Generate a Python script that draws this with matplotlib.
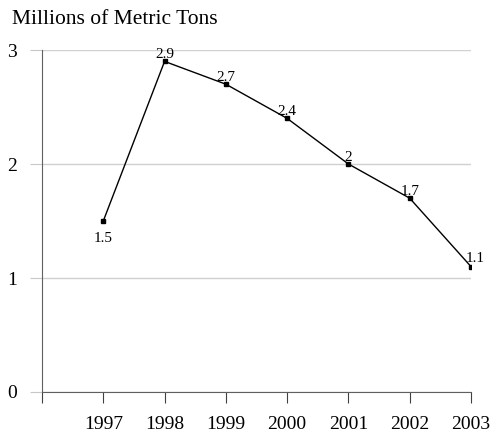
import matplotlib.pyplot as plt

# Dados
anos = [1997, 1998, 1999, 2000, 2001, 2002, 2003]
valores = [1.5, 2.9, 2.7, 2.4, 2.0, 1.7, 1.1]
rotulos = ['1.5', '2.9', '2.7', '2.4', '2', '1.7', '1.1']

plt.rcParams['font.family'] = ['Liberation Serif', 'DejaVu Serif']

fig = plt.figure(figsize=(4.9, 4.32), dpi=100)
ax = fig.add_axes([42 / 490, 1 - 392 / 432, (471 - 42) / 490, (392 - 50) / 432])

ax.plot(anos, valores, color='black', linewidth=1, marker='s', markersize=3.5, zorder=3)

# Rotulos dos pontos
for x, y, txt in zip(anos, valores, rotulos):
    if txt == '1.5':
        ax.annotate(txt, (x, y), xytext=(0, -8), textcoords='offset points',
                    ha='center', va='top', fontsize=11)
    elif txt == '1.1':
        ax.annotate(txt, (x, y), xytext=(3, 1), textcoords='offset points',
                    ha='center', va='bottom', fontsize=11)
    else:
        ax.annotate(txt, (x, y), xytext=(0, 0), textcoords='offset points',
                    ha='center', va='bottom', fontsize=11)

ax.set_xlim(1996, 2003)
ax.set_ylim(0, 3)
ax.set_yticks([0, 1, 2, 3])
ax.set_xticks([1996] + anos)
ax.set_xticklabels([''] + [str(a) for a in anos])

ax.grid(axis='y', color='#d0d0d0', linewidth=1)
ax.set_axisbelow(True)

for s in ['top', 'right']:
    ax.spines[s].set_visible(False)
ax.spines['left'].set_color('#606060')
ax.spines['bottom'].set_color('#606060')

ax.tick_params(axis='y', length=9, color='#c8c8c8', labelsize=14, pad=9)
ax.tick_params(axis='x', length=8, color='#404040', labelsize=14, pad=9)

fig.text(12 / 490, 1 - 19 / 432, 'Millions of Metric Tons', fontsize=15.5, ha='left', va='center')

plt.savefig('out.png', dpi=100)
